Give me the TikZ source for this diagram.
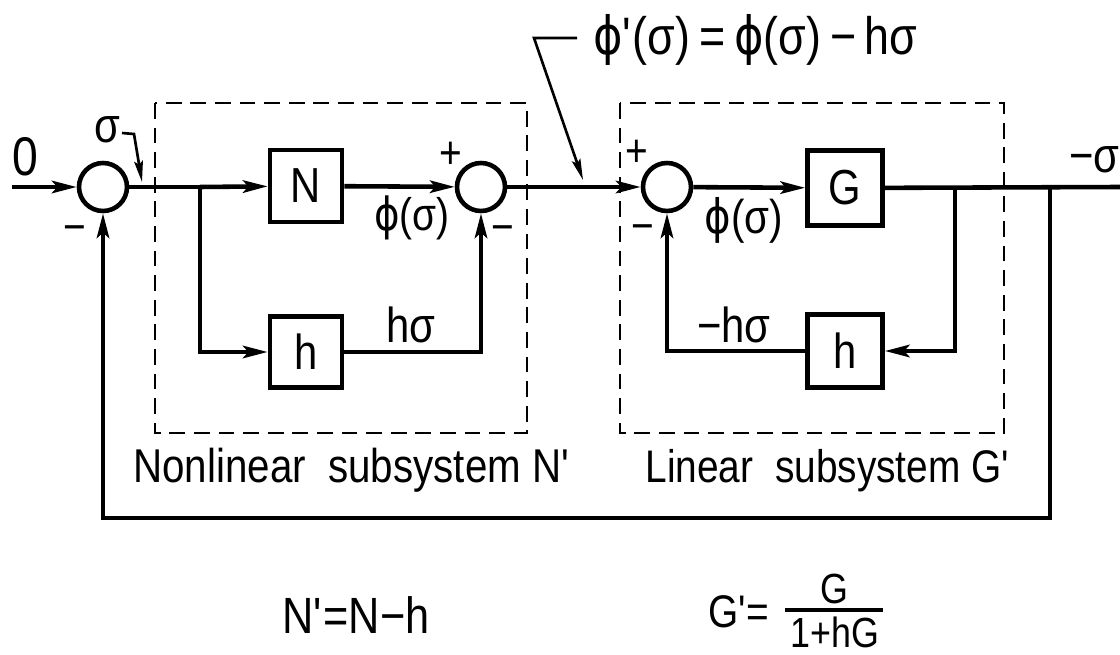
\documentclass[tikz,border=0pt]{standalone}
\usepackage{fontspec}
\setmainfont{Liberation Sans}[FakeStretch=0.85]
\newfontfamily\dvs{DejaVu Sans}[FakeStretch=0.85]
\usetikzlibrary{arrows.meta}
\newcommand{\phis}{{\dvs ϕ}}
\newcommand{\pr}{\textquotesingle}
\newcommand{\fs}[1]{\fontsize{#1}{#1}\selectfont}
\begin{document}
\begin{tikzpicture}[x=0.02cm,y=-0.02cm,
  line/.style={line width=2.6pt},
  arr/.style={line,-{Stealth[length=14pt,width=7pt,inset=3pt]}},
  leader/.style={line width=1.5pt,-{Stealth[length=12pt,width=5pt,inset=2pt]}},
  dashbox/.style={line width=1.6pt,dash pattern=on 9pt off 5pt},
  blk/.style={draw,line width=2.6pt,inner sep=0pt,font=\fs{28}},
  sumn/.style={draw,circle,line width=2.6pt,minimum size=0.96cm,inner sep=0pt},
  lbl/.style={inner sep=0pt,font=\fs{26}}]
\useasboundingbox (0,0) rectangle (1120,655);
% blocks
\node[sumn] (s1) at (103,187) {};
\node[sumn] (s2) at (481,187) {};
\node[sumn] (s3) at (667,187) {};
\node[blk,minimum width=1.44cm,minimum height=1.44cm] (N) at (306,186) {N};
\node[blk,minimum width=1.44cm,minimum height=1.42cm] (h1) at (306,352) {h};
\node[blk,minimum width=1.5cm,minimum height=1.5cm] (G) at (845,188) {G};
\node[blk,minimum width=1.5cm,minimum height=1.46cm] (h2) at (845,351) {h};
% coordinates
\coordinate (in) at (12,187);
\coordinate (b1) at (200,187);
\coordinate (b2) at (955,187);
\coordinate (b3) at (1050,187);
\coordinate (out) at (1120,187);
\coordinate (c1) at (1050,518);
% connectors
\draw[arr] (in) -- (s1);
\draw[line] (s1) -- (b1);
\draw[arr] (b1) -- (N);
\draw[arr] (b1) |- (h1);
\draw[arr] (N) -- (s2);
\draw[arr] (h1) -| (s2);
\draw[arr] (s2) -- (s3);
\draw[arr] (s3) -- (G);
\draw[line] (G) -- (out);
\draw[arr] (b2) |- (h2);
\draw[arr] (h2) -| (s3);
\draw[arr] (b3) -- (c1) -| (s1);
% dashed subsystems
\draw[dashbox] (155,103) rectangle (527,433);
\draw[dashbox] (620,103) rectangle (1004,433);
% leaders
\coordinate (l1a) at (122,133);
\coordinate (l1b) at (134,134);
\coordinate (l1c) at (142,182);
\draw[leader] (l1a) -- (l1b) -- (l1c);
\coordinate (l2a) at (577,38);
\coordinate (l2b) at (534,38);
\coordinate (l2c) at (583,180);
\draw[leader] (l2a) -- (l2b) -- (l2c);
% labels
\node[lbl,font=\fs{31}] (t0) at (25,157) {0};
\node[lbl,font=\fs{28}] (tsig) at (107,130) {σ};
\node[lbl] (tm1) at (75,234) {−};
\node[lbl] (tp2) at (451,155) {+};
\node[lbl] (tm2) at (503,234) {−};
\node[lbl] (tp3) at (637,153) {+};
\node[lbl] (tm3) at (643,233) {−};
\node[lbl,font=\fs{26}] (tphi1) at (412,218) {\phis(σ)};
\node[lbl,font=\fs{27}] (tphi2) at (744,220) {\phis(σ)};
\node[lbl,font=\fs{28}] (ths) at (411,325) {hσ};
\node[lbl,font=\fs{28}] (tmhs) at (734,325) {−hσ};
\node[lbl,font=\fs{28},anchor=east] (tout) at (1120,160) {−σ};
\node[lbl,font=\fs{30},anchor=west] (ttop) at (593,40) {\phis\pr(σ)\,=\,\phis(σ)\,−\,hσ};
\node[lbl,font=\fs{27},anchor=base] (tN) at (352,482) {Nonlinear\ \ subsystem\ N\pr};
\node[lbl,anchor=base] (tG) at (828,482) {Linear\ \ subsystem\ G\pr};
\node[lbl,font=\fs{29}] (fN) at (356,615) {N\pr=N−h};
\node[lbl,anchor=base east] (fG1) at (770,627) {G\pr=};
\node[lbl,font=\fs{24}] (fGn) at (834,589) {G};
\node[lbl,font=\fs{24}] (fGd) at (835,632) {1+hG};
\coordinate (fb1) at (785,610);
\coordinate (fb2) at (883,610);
\draw[line width=1.8pt] (fb1) -- (fb2);
\end{tikzpicture}
\end{document}
